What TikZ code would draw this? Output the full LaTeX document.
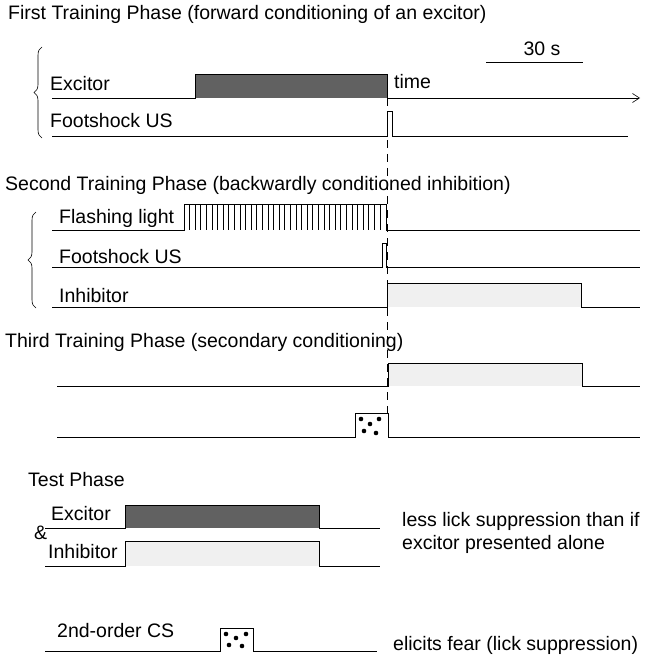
\documentclass[tikz,border=0pt]{standalone}
\usepackage{fontspec}
\setmainfont{Liberation Sans}
\usetikzlibrary{decorations.pathreplacing,arrows.meta}

\tikzset{
  sig/.style={line width=0.9pt},
  lbl/.style={anchor=base west, inner sep=0pt, font=\fontsize{19.5}{22}\selectfont},
  darkfill/.style={fill=black!62},
  lightfill/.style={fill=black!6},
  brc/.style={decorate, decoration={brace, amplitude=8pt}, line width=0.6pt},
  guide/.style={line width=0.5pt, dash pattern=on 8pt off 6pt},
}

\begin{document}
\begin{tikzpicture}[x=1pt, y=-1pt]
  \useasboundingbox (0,0) rectangle (647,655);

  % first phase
  \node[lbl] (title1) at (8,20) {First Training Phase (forward conditioning of an excitor)};
  \node[lbl, anchor=base] (scale) at (542,56) {30 s};
  \draw[sig] (486,62) -- (583,62);
  \draw[brc] (42,138) -- (42,47);
  \fill[darkfill] (195,74) rectangle (387,98);
  \draw[sig, -{Straight Barb[length=7pt, width=9pt, line width=0.6pt]}] (52,98) -- (195,98) -- (195,74) -- (387,74) -- (387,98) -- (640,98);
  \node[lbl] (exc1) at (50,91) {Excitor};
  \node[lbl] (time) at (394,89) {time};
  \draw[sig] (52,136) -- (387,136) -- (387,111) -- (392,111) -- (392,136) -- (628,136);
  \node[lbl] (us1) at (50,128) {Footshock US};

  % second phase
  \node[lbl] (title2) at (5,190) {Second Training Phase (backwardly conditioned inhibition)};
  \draw[brc] (36,308) -- (36,212);
  \draw[sig] (52,230) -- (184,230) -- (184,204) -- (386,204) -- (386,230) -- (640,230);
  \foreach \i in {1,...,35}
    \draw[line width=0.7pt] ({184+\i*5.6},204) -- ++(0,26);
  \node[lbl] (flash) at (59,223) {Flashing light};
  \draw[sig] (52,267) -- (382,267) -- (382,243) -- (386,243) -- (386,267) -- (640,267);
  \node[lbl] (us2) at (59,263) {Footshock US};
  \fill[lightfill] (387,283) rectangle (581,307);
  \draw[sig] (52,307) -- (387,307) -- (387,283) -- (581,283) -- (581,307) -- (640,307);
  \node[lbl] (inh2) at (59,302) {Inhibitor};

  % third phase
  \node[lbl] (title3) at (5,347) {Third Training Phase (secondary conditioning)};
  \fill[lightfill] (388,363) rectangle (582,386);
  \draw[sig] (57,386) -- (388,386) -- (388,363) -- (582,363) -- (582,386) -- (640,386);
  \draw[sig] (57,437) -- (355,437) -- (355,413) -- (388,413) -- (388,437) -- (640,437);
  \foreach \p in {(361,419),(379,419),(370,424),(364,431),(376,433)}
    \fill \p circle (2.3pt);

  % dashed time mark
  \draw[guide] (387,98) -- (387,413);

  % test phase
  \node[lbl] (title4) at (28,486) {Test Phase};
  \fill[darkfill] (125,505) rectangle (319,528);
  \draw[sig] (45,528) -- (125,528) -- (125,505) -- (319,505) -- (319,528) -- (380,528);
  \node[lbl] (exc4) at (51,520) {Excitor};
  \node[lbl] (amp) at (34,539) {\&};
  \fill[lightfill] (125,541) rectangle (319,566);
  \draw[sig] (45,566) -- (125,566) -- (125,541) -- (319,541) -- (319,566) -- (380,566);
  \node[lbl] (inh4) at (48,558) {Inhibitor};
  \node[lbl] (less) at (402,526) {less lick suppression than if};
  \node[lbl] (alone) at (402,549) {excitor presented alone};
  \draw[sig] (45,651) -- (220,651) -- (220,628) -- (253,628) -- (253,651) -- (377,651);
  \foreach \p in {(226,634),(236,638),(246,634),(229,645),(242,646)}
    \fill \p circle (2.3pt);
  \node[lbl] (cs2) at (57,637) {2nd-order CS};
  \node[lbl] (fear) at (393,650) {elicits fear (lick suppression)};
\end{tikzpicture}
\end{document}
